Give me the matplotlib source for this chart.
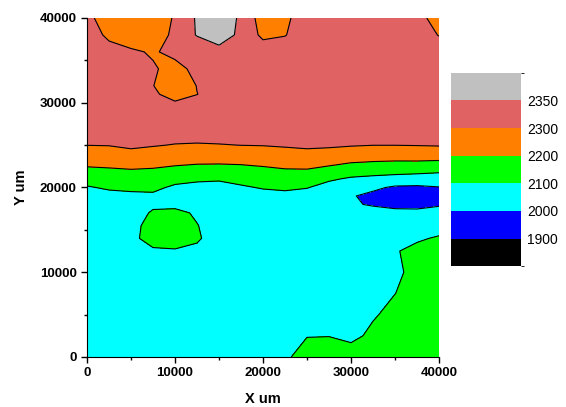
import numpy as np
import matplotlib
matplotlib.use("Agg")
import matplotlib.pyplot as plt
from matplotlib.colors import ListedColormap, BoundaryNorm
from matplotlib.cm import ScalarMappable
from matplotlib.ticker import MultipleLocator

plt.rcParams['font.family'] = ['Liberation Sans', 'DejaVu Sans']

# grid (x every 2500 um, rows listed top to bottom)
x_um = [0, 2500, 5000, 7500, 10000, 12500, 15000, 17500, 20000,
        22500, 25000, 27500, 30000, 32500, 35000, 37500, 40000]
y_um = [40000, 38000, 36000, 34000, 32000, 31000, 30000, 28000, 26000, 25000,
        24000, 23000, 22000, 21000, 20000, 19000, 18000, 17000, 15500,
        14000, 12500, 10000, 7500, 5000, 2500, 0]
z_rows = [
    [2325, 2250, 2240, 2240, 2310, 2355, 2390, 2340, 2277, 2285, 2340, 2325, 2325, 2325, 2325, 2320, 2275],
    [2325, 2290, 2240, 2240, 2325, 2352, 2385, 2335, 2290, 2298, 2325, 2325, 2325, 2325, 2325, 2325, 2298],
    [2325, 2318, 2315, 2290, 2325, 2325, 2327, 2325, 2325, 2325, 2325, 2325, 2325, 2325, 2325, 2325, 2325],
    [2325, 2325, 2325, 2310, 2270, 2325, 2325, 2325, 2325, 2325, 2325, 2325, 2325, 2325, 2325, 2325, 2325],
    [2325, 2325, 2325, 2302, 2250, 2302, 2325, 2325, 2325, 2325, 2325, 2325, 2325, 2325, 2325, 2325, 2325],
    [2325, 2325, 2325, 2315, 2265, 2299, 2325, 2325, 2325, 2325, 2325, 2325, 2325, 2325, 2325, 2325, 2325],
    [2325, 2325, 2325, 2325, 2308, 2320, 2325, 2325, 2325, 2325, 2325, 2325, 2325, 2325, 2325, 2325, 2325],
    [2325, 2325, 2325, 2325, 2325, 2325, 2325, 2325, 2325, 2325, 2325, 2325, 2325, 2325, 2325, 2325, 2325],
    [2325, 2325, 2325, 2325, 2325, 2325, 2325, 2325, 2325, 2325, 2325, 2325, 2325, 2325, 2325, 2325, 2325],
    [2301, 2303, 2316, 2306, 2296, 2292, 2296, 2301, 2303, 2309, 2316, 2313, 2306, 2301, 2301, 2303, 2306],
    [2262, 2265, 2279, 2268, 2258, 2252, 2253, 2257, 2263, 2272, 2279, 2271, 2258, 2249, 2247, 2250, 2252],
    [2223, 2227, 2236, 2228, 2219, 2212, 2211, 2213, 2221, 2232, 2236, 2224, 2205, 2197, 2193, 2193, 2188],
    [2182, 2188, 2194, 2190, 2176, 2165, 2162, 2171, 2181, 2192, 2193, 2171, 2144, 2132, 2124, 2119, 2112],
    [2136, 2150, 2157, 2155, 2129, 2115, 2110, 2129, 2144, 2154, 2149, 2112, 2088, 2080, 2074, 2070, 2066],
    [2092, 2112, 2119, 2121, 2084, 2072, 2068, 2088, 2107, 2115, 2104, 2068, 2048, 2020, 1985, 1980, 1995],
    [2052, 2072, 2080, 2084, 2044, 2040, 2040, 2048, 2068, 2076, 2064, 2040, 2008, 1975, 1965, 1960, 1970],
    [2045, 2055, 2060, 2085, 2070, 2050, 2045, 2045, 2050, 2055, 2050, 2040, 2012, 1990, 1970, 1965, 1990],
    [2045, 2050, 2060, 2110, 2130, 2085, 2050, 2045, 2045, 2045, 2045, 2045, 2045, 2040, 2030, 2030, 2035],
    [2045, 2050, 2070, 2135, 2150, 2104, 2050, 2045, 2045, 2045, 2045, 2045, 2045, 2050, 2055, 2060, 2060],
    [2045, 2050, 2075, 2140, 2150, 2112, 2055, 2045, 2045, 2045, 2045, 2045, 2045, 2050, 2060, 2088, 2110],
    [2045, 2050, 2060, 2085, 2090, 2080, 2050, 2045, 2045, 2045, 2045, 2045, 2045, 2055, 2093, 2125, 2130],
    [2045, 2045, 2045, 2045, 2045, 2045, 2045, 2045, 2045, 2045, 2045, 2045, 2045, 2055, 2080, 2130, 2140],
    [2045, 2045, 2045, 2045, 2045, 2045, 2045, 2045, 2045, 2045, 2045, 2045, 2045, 2060, 2099, 2130, 2140],
    [2045, 2045, 2045, 2045, 2045, 2045, 2045, 2045, 2045, 2045, 2045, 2045, 2055, 2091, 2125, 2140, 2145],
    [2045, 2045, 2045, 2045, 2045, 2045, 2045, 2045, 2045, 2060, 2096, 2098, 2076, 2120, 2140, 2145, 2150],
    [2045, 2045, 2045, 2045, 2045, 2045, 2045, 2045, 2045, 2080, 2150, 2150, 2150, 2150, 2150, 2150, 2150],
]

levels = [1900, 2000, 2100, 2200, 2300, 2350]
level_colors = ["#000000", "#0000FF", "#00FFFF", "#00FF00", "#FF8000", "#E06262", "#C0C0C0"]
bounds = [1800] + levels + [2400]

x = np.array(x_um)
y = np.array(y_um)[::-1]
z = np.array(z_rows)[::-1]

fig = plt.figure(figsize=(5.66, 4.07), dpi=100)
ax = fig.add_axes([0.1537, 0.1229, 0.6219, 0.8329])

ax.contourf(x, y, z, levels=[1000] + levels + [3000], colors=level_colors)
ax.contour(x, y, z, levels=levels, colors="black", linewidths=0.8)

ax.set_xlim(0, 40000)
ax.set_ylim(0, 40000)
ax.xaxis.set_major_locator(MultipleLocator(10000))
ax.yaxis.set_major_locator(MultipleLocator(10000))
ax.xaxis.set_minor_locator(MultipleLocator(5000))
ax.yaxis.set_minor_locator(MultipleLocator(5000))
ax.tick_params(which="major", direction="out", length=4, width=1, labelsize=9.5)
ax.tick_params(which="minor", direction="out", length=2.5, width=1)
for lab in ax.get_xticklabels() + ax.get_yticklabels():
    lab.set_fontweight("bold")
ax.spines["top"].set_visible(False)
ax.spines["right"].set_visible(False)
ax.set_xlabel("X um", fontsize=10.5, fontweight="bold", labelpad=9)
ax.set_ylabel("Y um", fontsize=10.5, fontweight="bold", labelpad=8)

# colour scale
cax = fig.add_axes([0.797, 0.346, 0.124, 0.475])
sm = ScalarMappable(norm=BoundaryNorm(bounds, len(level_colors)), cmap=ListedColormap(level_colors))
cb = fig.colorbar(sm, cax=cax, boundaries=bounds, spacing="uniform", ticks=levels)
cb.outline.set_visible(False)
cb.ax.tick_params(length=0, labelsize=10, pad=4)

plt.savefig("out.png", dpi=100)
